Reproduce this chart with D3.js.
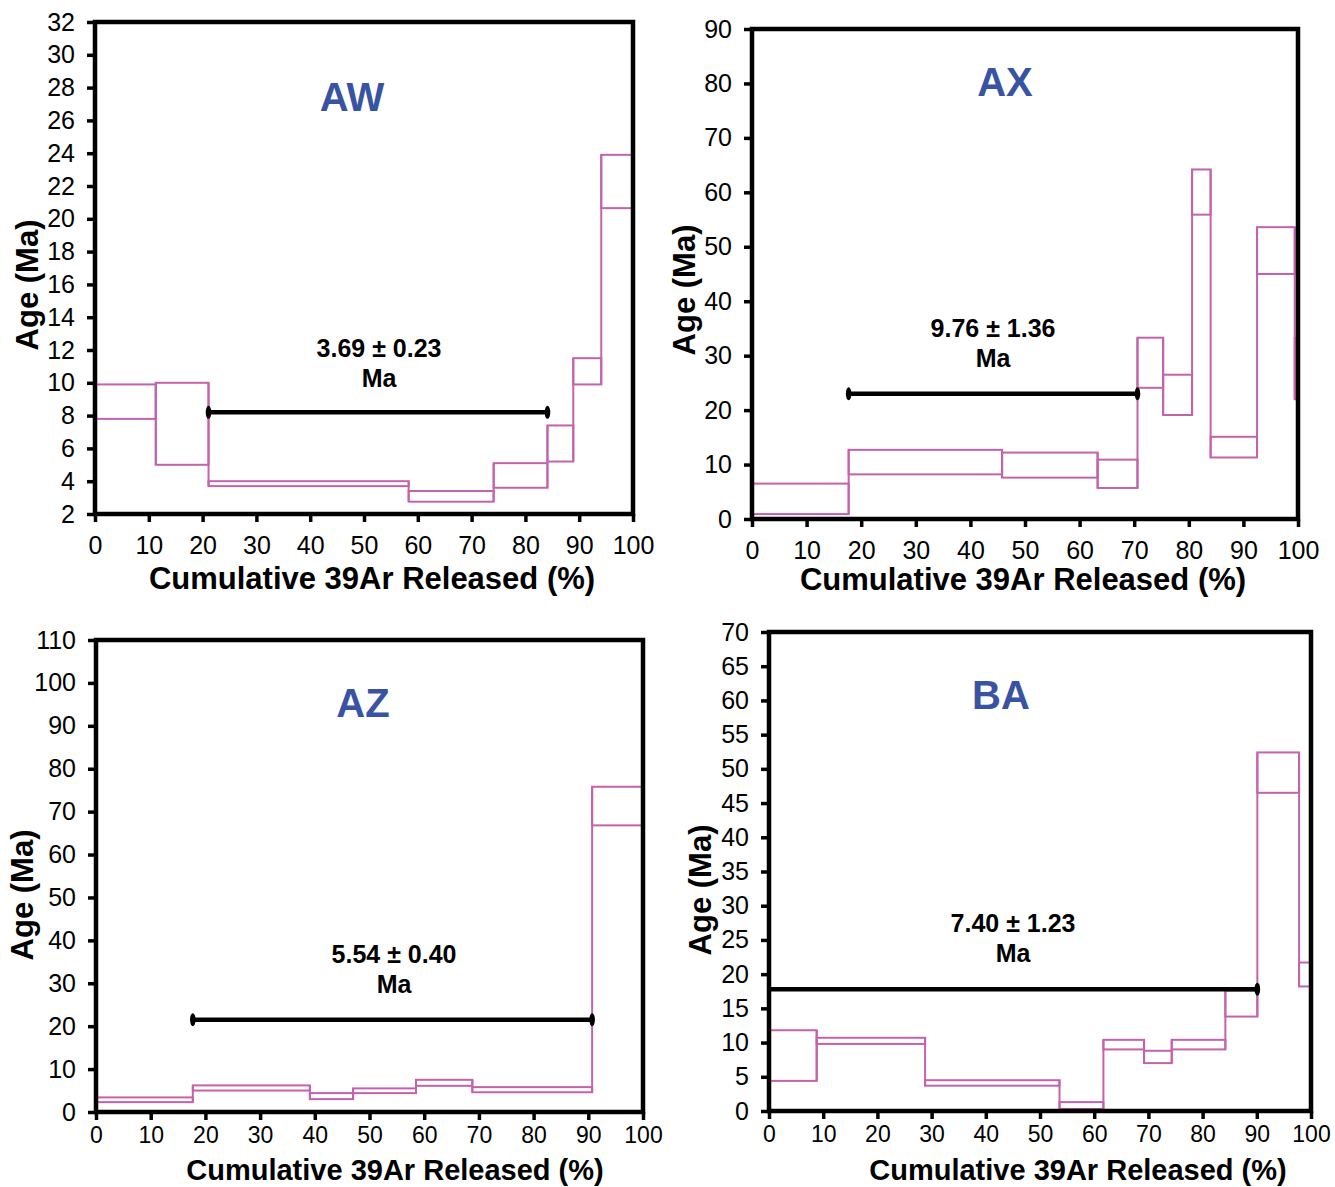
<!DOCTYPE html>
<html>
<head>
<meta charset="utf-8">
<script src="https://cdn.jsdelivr.net/npm/d3@7"></script>
<style>
  html, body { margin: 0; padding: 0; background: #ffffff; }
  svg { display: block; font-family: "Liberation Sans", Arial, sans-serif; }
</style>
</head>
<body>
<svg id="chart" width="1335" height="1187"></svg>
<script>
// ---------------- DATA ----------------
// Sample names
const sampleNames = ["AW", "AX", "AZ", "BA"];

// AW
const awCum  = [0, 11.3, 21.1, 58.3, 74.1, 84.1, 88.9, 94.1, 100];
const awHigh = [9.9, 10.0, 4.0, 3.4, 5.1, 7.4, 11.5, 23.9];
const awLow  = [7.8, 5.0, 3.7, 2.75, 3.6, 5.2, 9.9, 20.65];
const awPlateau = [21.1, 84.1, 8.2];
const awAgeText = ["3.69 ± 0.23", "Ma"];
const awYTicks = [2, 4, 6, 8, 10, 12, 14, 16, 18, 20, 22, 24, 26, 28, 30, 32];

// AX
const axCum  = [0, 17.7, 45.8, 63.3, 70.6, 75.3, 80.6, 84.0, 92.5, 99.4, 100];
const axHigh = [6.5, 12.7, 12.2, 10.9, 33.3, 26.5, 64.2, 15.1, 53.6, 33.3];
const axLow  = [0.9, 8.2, 7.6, 5.7, 24.1, 19.1, 55.9, 11.3, 45.0, 22.0];
const axPlateau = [17.7, 70.6, 23.0];
const axAgeText = ["9.76 ± 1.36", "Ma"];
const axYTicks = [0, 10, 20, 30, 40, 50, 60, 70, 80, 90];

// AZ
const azCum  = [0, 17.7, 39.1, 47.0, 58.5, 68.8, 90.7, 100];
const azHigh = [3.4, 6.2, 4.4, 5.5, 7.5, 5.8, 75.8];
const azLow  = [2.3, 5.0, 3.0, 4.4, 6.1, 4.6, 66.8];
const azPlateau = [17.7, 90.7, 21.5];
const azAgeText = ["5.54 ± 0.40", "Ma"];
const azYTicks = [0, 10, 20, 30, 40, 50, 60, 70, 80, 90, 100, 110];

// BA
const baCum  = [0, 8.8, 28.8, 53.6, 61.7, 69.2, 74.3, 84.2, 90.1, 97.8, 100];
const baHigh = [11.8, 10.7, 4.5, 1.3, 10.4, 8.8, 10.4, 17.6, 52.4, 21.7];
const baLow  = [4.4, 9.8, 3.7, 0.3, 9.0, 7.0, 9.0, 13.8, 46.5, 18.2];
const baPlateau = [0, 90.1, 17.8];
const baAgeText = ["7.40 ± 1.23", "Ma"];
const baYTicks = [0, 5, 10, 15, 20, 25, 30, 35, 40, 45, 50, 55, 60, 65, 70];

const xTicks = [0, 10, 20, 30, 40, 50, 60, 70, 80, 90, 100];
const xTitle = "Cumulative 39Ar Released (%)";
const yTitle = "Age (Ma)";

// ---------------- LAYOUT ----------------
const panels = [
  { name: sampleNames[0], cum: awCum, hi: awHigh, lo: awLow, plateau: awPlateau, ageText: awAgeText, yTicks: awYTicks,
    box: { l: 95, r: 633, t: 22, b: 514 }, xPad: 14, xtSize: 31, xLabSize: 25,
    title: [352, 97], age: [379, 348], xt: [372, 578], yt: [27, 285], capLeft: true },
  { name: sampleNames[1], cum: axCum, hi: axHigh, lo: axLow, plateau: axPlateau, ageText: axAgeText, yTicks: axYTicks,
    box: { l: 752, r: 1298, t: 29, b: 519 }, xPad: 14, xtSize: 31, xLabSize: 25,
    title: [1005, 82], age: [993, 328], xt: [1023, 579], yt: [684, 290], capLeft: true },
  { name: sampleNames[2], cum: azCum, hi: azHigh, lo: azLow, plateau: azPlateau, ageText: azAgeText, yTicks: azYTicks,
    box: { l: 96, r: 643, t: 640, b: 1112 }, xPad: 7, xtSize: 29, xLabSize: 23,
    title: [363, 703], age: [394, 954], xt: [395, 1170], yt: [22, 895], capLeft: true },
  { name: sampleNames[3], cum: baCum, hi: baHigh, lo: baLow, plateau: baPlateau, ageText: baAgeText, yTicks: baYTicks,
    box: { l: 769, r: 1311, t: 632, b: 1111 }, xPad: 7, xtSize: 29, xLabSize: 23,
    title: [1001, 695], age: [1013, 923], xt: [1078, 1170], yt: [700, 890], capLeft: false }
];

const stepColor = "#c462ab";
const titleColor = "#3953a4";
const fontFam = '"Liberation Sans", Arial, sans-serif';

const svg = d3.select("#chart");

panels.forEach(p => {
  const g = svg.append("g");
  const x = d3.scaleLinear().domain([0, 100]).range([p.box.l, p.box.r]);
  const yMin = p.yTicks[0], yMax = p.yTicks[p.yTicks.length - 1];
  const y = d3.scaleLinear().domain([yMin, yMax]).range([p.box.b, p.box.t]);

  // step rectangles (upper / lower age of each heating step)
  const steps = p.hi.map((h, i) => ({ x0: p.cum[i], x1: p.cum[i + 1], hi: h, lo: p.lo[i] }));
  g.append("g").selectAll("rect").data(steps).join("rect")
    .attr("x", d => x(d.x0))
    .attr("width", d => x(d.x1) - x(d.x0))
    .attr("y", d => y(d.hi))
    .attr("height", d => y(d.lo) - y(d.hi))
    .attr("fill", "none")
    .attr("stroke", stepColor)
    .attr("stroke-width", 2);

  // vertical connectors between neighbouring steps
  const joins = steps.slice(1).map((s, i) => {
    const prev = steps[i];
    return {
      xv: s.x0,
      top: Math.max(prev.hi, s.hi),
      bot: Math.min(prev.lo, s.lo)
    };
  });
  g.append("g").selectAll("line").data(joins).join("line")
    .attr("x1", d => x(d.xv)).attr("x2", d => x(d.xv))
    .attr("y1", d => y(d.top)).attr("y2", d => y(d.bot))
    .attr("stroke", stepColor)
    .attr("stroke-width", 2);

  // axes
  const yAxis = d3.axisLeft(y).tickValues(p.yTicks).tickSize(8).tickPadding(12).tickFormat(d3.format("d"));
  const xAxis = d3.axisBottom(x).tickValues(xTicks).tickSize(8).tickPadding(p.xPad).tickFormat(d3.format("d"));

  const ya = g.append("g").attr("transform", `translate(${p.box.l},0)`).call(yAxis);
  const xa = g.append("g").attr("transform", `translate(0,${p.box.b})`).call(xAxis);
  [ya, xa].forEach(a => {
    a.select(".domain").remove();
    a.selectAll(".tick line").attr("stroke", "#000").attr("stroke-width", 3.5);
    a.selectAll(".tick text").attr("fill", "#000").style("font-size", "25px")
      .style("font-family", fontFam);
  });
  xa.selectAll(".tick text").style("font-size", p.xLabSize + "px");

  // frame
  g.append("rect")
    .attr("x", p.box.l).attr("y", p.box.t)
    .attr("width", p.box.r - p.box.l).attr("height", p.box.b - p.box.t)
    .attr("fill", "none").attr("stroke", "#000").attr("stroke-width", 4.5);

  // plateau bar
  const [px0, px1, pAge] = p.plateau;
  g.append("line")
    .attr("x1", x(px0)).attr("x2", x(px1))
    .attr("y1", y(pAge)).attr("y2", y(pAge))
    .attr("stroke", "#000").attr("stroke-width", 4.5);
  const caps = p.capLeft ? [px0, px1] : [px1];
  g.append("g").selectAll("ellipse").data(caps).join("ellipse")
    .attr("cx", d => x(d)).attr("cy", y(pAge))
    .attr("rx", 2.8).attr("ry", 6.5).attr("fill", "#000");

  // sample title
  g.append("text")
    .attr("x", p.title[0]).attr("y", p.title[1]).attr("dy", "0.36em")
    .attr("text-anchor", "middle")
    .style("font-size", "40px").style("font-weight", "bold").attr("fill", titleColor)
    .text(p.name);

  // age text
  g.append("text")
    .attr("x", p.age[0]).attr("y", p.age[1]).attr("dy", "0.36em")
    .attr("text-anchor", "middle")
    .style("font-size", "25px").style("font-weight", "bold").attr("fill", "#000")
    .text(p.ageText[0]);
  g.append("text")
    .attr("x", p.age[0]).attr("y", p.age[1] + 30).attr("dy", "0.36em")
    .attr("text-anchor", "middle")
    .style("font-size", "25px").style("font-weight", "bold").attr("fill", "#000")
    .text(p.ageText[1]);

  // axis titles
  g.append("text")
    .attr("x", p.xt[0]).attr("y", p.xt[1]).attr("dy", "0.36em")
    .attr("text-anchor", "middle")
    .style("font-size", p.xtSize + "px").style("font-weight", "bold").attr("fill", "#000")
    .text(xTitle);
  g.append("text")
    .attr("transform", `translate(${p.yt[0]},${p.yt[1]}) rotate(-90)`)
    .attr("dy", "0.36em")
    .attr("text-anchor", "middle")
    .style("font-size", "31px").style("font-weight", "bold").attr("fill", "#000")
    .text(yTitle);
});
</script>
</body>
</html>
